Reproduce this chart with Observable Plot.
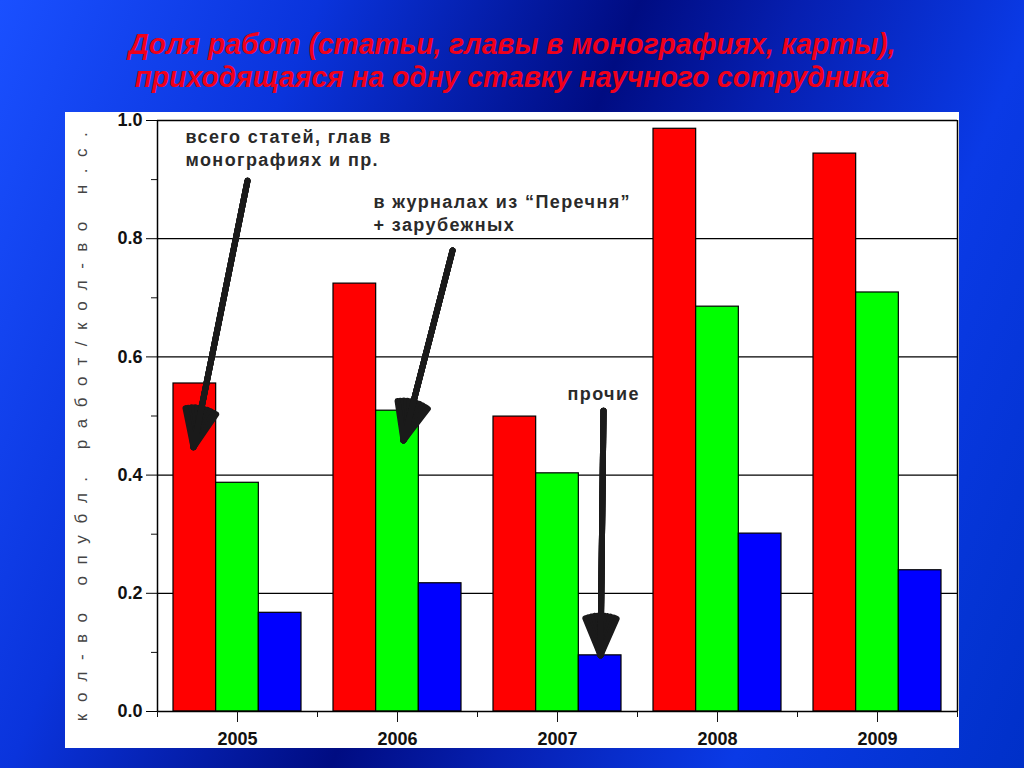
<!DOCTYPE html>
<html><head><meta charset="utf-8">
<script src="https://cdn.jsdelivr.net/npm/d3@7"></script>
<script src="https://cdn.jsdelivr.net/npm/@observablehq/plot@0.6"></script>
<style>
html,body{margin:0;padding:0;width:1024px;height:768px;overflow:hidden}
body{background:linear-gradient(112deg,#1a50ff 0%,#0a34dc 24%,#000c82 48%,#061fb0 60%,#0a3ae6 78%,#0030c8 100%);position:relative}
#title{position:absolute;left:0;top:27px;width:1024px;text-align:center;color:#f0001a;font-family:"Liberation Sans",Arial,sans-serif;font-style:italic;font-weight:bold;font-size:30px;line-height:33px;transform:scaleX(0.94);transform-origin:512px 0}
#chart{position:absolute;left:65px;top:112px;width:894px;height:636px;overflow:visible;clip-path:inset(-30px -30px 0 -30px);background:#fff}
#chart svg{overflow:visible}
</style></head>
<body>
<div id="title">Доля работ (статьи, главы в монографиях, карты),<br>приходящаяся на одну ставку научного сотрудника</div>
<div id="chart"></div>
<script>
const years = ["2005", "2006", "2007", "2008", "2009"];
const seriesNames = ["всего статей, глав в монографиях и пр.", "в журналах из “Перечня” + зарубежных", "прочие"];
const totalValues = [0.555, 0.724, 0.499, 0.986, 0.944];
const listValues = [0.387, 0.509, 0.403, 0.685, 0.709];
const otherValues = [0.167, 0.217, 0.095, 0.301, 0.239];
const seriesColors = ["#ff0000", "#00ff00", "#0000ff"];
const yTicks = [0, 0.2, 0.4, 0.6, 0.8, 1.0];
const yMinorTicks = [0.1, 0.3, 0.5, 0.7, 0.9];
const yLabel = "кол-во опубл. работ/кол-во н.с.";

// annotation texts and arrows (in data units: x = group index scale, y = value)
const noteTexts = ["всего статей, глав в\nмонографиях и пр.", "в журналах из “Перечня”\n+ зарубежных", "прочие"];
const noteX = [0.175, 1.35, 2.5625];
const noteY = [0.99, 0.88, 0.555];
const arrowX1 = [0.5625, 1.844, 2.7875];
const arrowY1 = [0.898, 0.780, 0.509];
const arrowX2 = [0.225, 1.5375, 2.769];
const arrowY2 = [0.447, 0.4585, 0.095];

const seriesValues = [totalValues, listValues, otherValues];
const groupPad = 0.1, barW = 0.8 / 3;
const bars = [];
years.forEach((yr, i) => seriesValues.forEach((vals, j) => {
  bars.push({year: yr, series: seriesNames[j], x1: i + groupPad + j * barW, x2: i + groupPad + (j + 1) * barW, value: vals[i]});
}));
const yearPos = years.map((d, i) => i + 0.5);
const groupEdges = d3.range(years.length + 1);
const notes = noteTexts.map((t, k) => ({text: t, x: noteX[k], y: noteY[k]}));
const arrows = arrowX1.map((d, k) => ({x1: d, y1: arrowY1[k], x2: arrowX2[k], y2: arrowY2[k]}));

const arrowMarks = [8, 18, 28, 38, 46].map(a => Plot.arrow(arrows, {x1: "x1", y1: "y1", x2: "x2", y2: "y2", stroke: "#1a1a1a", strokeWidth: 6, headAngle: a, headLength: 10}));

const plot = Plot.plot({
  width: 894, height: 636,
  marginLeft: 92, marginRight: 2, marginTop: 8, marginBottom: 37,
  style: {background: "#fff", fontFamily: "'Liberation Sans', Arial, sans-serif", color: "#111", overflow: "visible"},
  x: {type: "linear", domain: [0, years.length], axis: null},
  y: {domain: [0, 1], axis: null},
  color: {domain: seriesNames, range: seriesColors},
  marks: [
    Plot.ruleY(yTicks.slice(1), {stroke: "#000", strokeWidth: 1.3}),
    Plot.rectY(bars, {x1: "x1", x2: "x2", y1: 0, y2: "value", fill: "series", stroke: "#000", strokeWidth: 1.2}),
    Plot.ruleX([0, years.length], {stroke: "#000", strokeWidth: 1.5}),
    Plot.ruleY([0], {stroke: "#000", strokeWidth: 1.5}),
    Plot.axisY({ticks: yTicks, tickSize: 11, tickPadding: 4, tickFormat: d3.format(".1f"), fontSize: 18, fontWeight: "bold", label: null, stroke: "#000"}),
    Plot.axisY({ticks: yMinorTicks, tickSize: 6, tickFormat: () => "", label: null}),
    Plot.axisX({ticks: yearPos, tickSize: 11, tickPadding: 10, tickFormat: d => years[Math.round(d - 0.5)], fontSize: 18, fontWeight: "bold", label: null}),
    Plot.axisX({ticks: groupEdges, tickSize: 6, tickFormat: () => "", label: null}),
    Plot.text([yLabel], {frameAnchor: "left", textAnchor: "middle", rotate: -90, dx: -76, dy: 5, fontSize: 17, fill: "#444"}),
    Plot.text(notes, {x: "x", y: "y", text: "text", textAnchor: "start", lineAnchor: "top", fontSize: 18, fontWeight: "bold", fill: "#2a2a2a", lineHeight: 1.3}),
    ...arrowMarks
  ]
});
document.getElementById("chart").appendChild(plot);
const sel = d3.select(plot).selectAll("text");
sel.filter(function() { return this.textContent === yLabel; }).attr("letter-spacing", "11.5px");
sel.filter(function() { return noteTexts.some(t => this.textContent.replace(/\s/g, "") === t.replace(/\s/g, "")); }).attr("letter-spacing", "1.4px");
</script>
</body></html>
